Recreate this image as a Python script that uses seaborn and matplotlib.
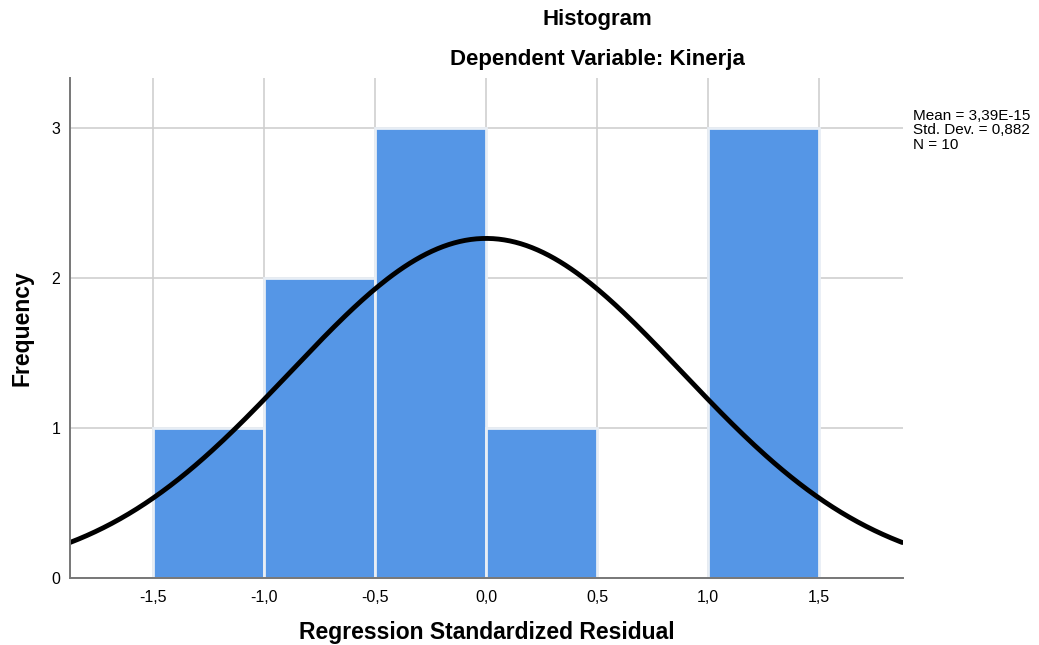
import numpy as np
import seaborn as sns
import matplotlib.pyplot as plt

# bin edges and counts
bin_edges = [-1.5, -1.0, -0.5, 0.0, 0.5, 1.0, 1.5]
bin_counts = [1, 2, 3, 1, 0, 3]
bin_centers = [-1.25, -0.75, -0.25, 0.25, 0.75, 1.25]

mean = 3.39e-15
std_dev = 0.882
n = 10

x_ticks = [-1.5, -1.0, -0.5, 0.0, 0.5, 1.0, 1.5]
x_tick_labels = ["-1,5", "-1,0", "-0,5", "0,0", "0,5", "1,0", "1,5"]
y_ticks = [0, 1, 2, 3]

sns.set_style("white")
plt.rcParams["font.family"] = ["Liberation Sans", "DejaVu Sans"]
plt.rcParams["text.color"] = "black"
plt.rcParams["axes.labelcolor"] = "black"
plt.rcParams["xtick.color"] = "black"
plt.rcParams["ytick.color"] = "black"

fig = plt.figure(figsize=(10.39, 6.45), dpi=100)
ax = fig.add_axes([0.0674, 0.104, 0.8016, 0.775])

# grid first so bars sit above it
ax.set_axisbelow(True)
ax.grid(True, color="#cfcfcf", linewidth=1.2)

sns.histplot(
    x=bin_centers,
    weights=bin_counts,
    bins=bin_edges,
    color="#5596e6",
    edgecolor="#e8eef5",
    linewidth=2,
    alpha=1,
    ax=ax,
)

# normal curve scaled to counts
xs = np.linspace(-1.875, 1.875, 300)
scale = n * 0.5
ys = scale / (std_dev * np.sqrt(2 * np.pi)) * np.exp(-0.5 * ((xs - mean) / std_dev) ** 2)
sns.lineplot(x=xs, y=ys, color="black", linewidth=3.5, ax=ax)

ax.set_xlim(-1.875, 1.878)
ax.set_ylim(0, 3.33)
ax.set_xticks(x_ticks)
ax.set_xticklabels(x_tick_labels)
ax.set_yticks(y_ticks)
ax.tick_params(axis="both", labelsize=11.5, length=0)
ax.tick_params(axis="y", pad=7)
ax.tick_params(axis="x", pad=9)

for s in ["top", "right"]:
    ax.spines[s].set_visible(False)
for s in ["left", "bottom"]:
    ax.spines[s].set_color("#777777")
    ax.spines[s].set_linewidth(1.4)

ax.set_xlabel("Regression Standardized Residual", fontsize=16.5, fontweight="bold", labelpad=11)
ax.set_ylabel("Frequency", fontsize=16.5, fontweight="bold", labelpad=13)

fig.text(0.575, 0.969, "Histogram", ha="center", va="center", fontsize=16, fontweight="bold")
fig.text(0.575, 0.907, "Dependent Variable: Kinerja", ha="center", va="center", fontsize=16, fontweight="bold")

fig.text(0.879, 0.798,
         "Mean = 3,39E-15\nStd. Dev. = 0,882\nN = " + str(n),
         ha="left", va="center", fontsize=11, linespacing=1.07)

fig.savefig("out.png", dpi=100)
